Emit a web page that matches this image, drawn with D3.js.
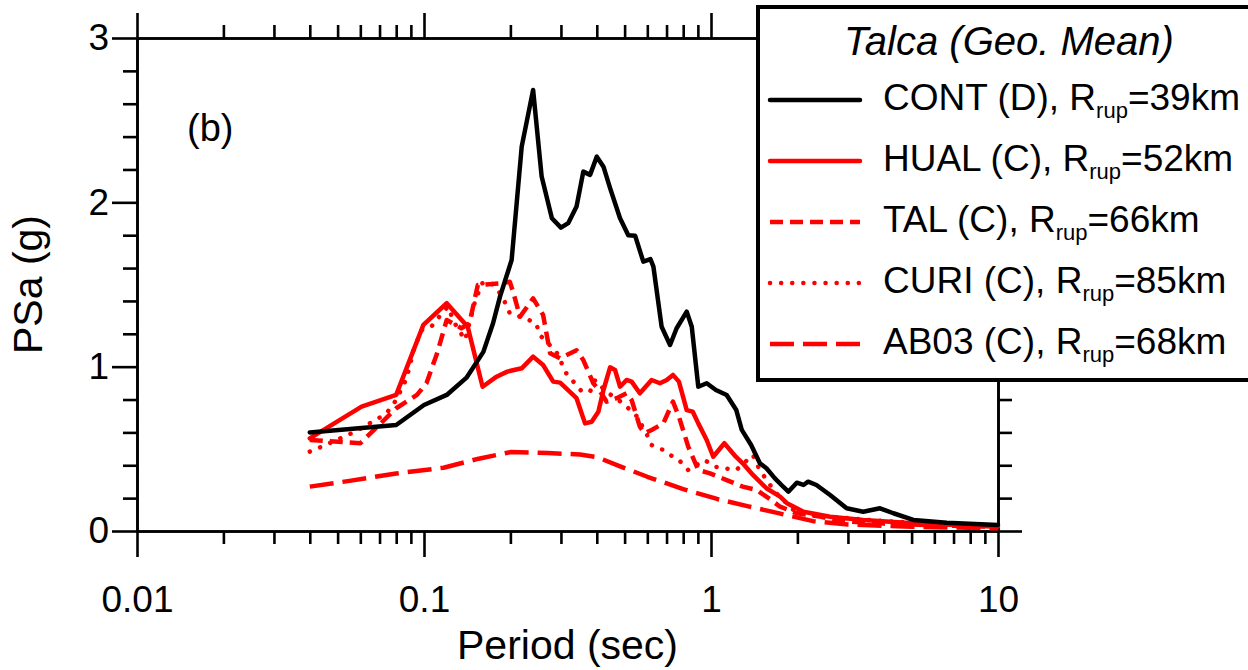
<!DOCTYPE html>
<html>
<head>
<meta charset="utf-8">
<script src="https://cdn.jsdelivr.net/npm/d3@7"></script>
<style>
  body { margin: 0; background: #fff; }
  svg { display: block; }
  text { font-family: "Liberation Sans", Arial, sans-serif; fill: #000; }
</style>
</head>
<body>
<div id="chart"></div>
<script>
// periods (sec) and PSa (g), one pair of arrays per record
const contT = [0.04, 0.08, 0.10, 0.12, 0.141, 0.161, 0.174, 0.184, 0.202, 0.219, 0.240, 0.257, 0.279, 0.300, 0.318, 0.340, 0.359, 0.379, 0.400, 0.422, 0.445, 0.482, 0.515, 0.544, 0.581, 0.615, 0.630, 0.673, 0.720, 0.759, 0.823, 0.857, 0.903, 0.966, 1.04, 1.134, 1.225, 1.28, 1.38, 1.48, 1.56, 1.67, 1.76, 1.86, 1.99, 2.10, 2.18, 2.33, 2.60, 2.97, 3.39, 3.88, 4.32, 5.07, 6.63, 10];
const contSa = [0.60, 0.645, 0.767, 0.828, 0.935, 1.09, 1.264, 1.426, 1.649, 2.339, 2.684, 2.157, 1.903, 1.846, 1.873, 1.974, 2.187, 2.167, 2.278, 2.217, 2.086, 1.903, 1.80, 1.797, 1.639, 1.655, 1.609, 1.243, 1.132, 1.234, 1.335, 1.243, 0.878, 0.899, 0.858, 0.828, 0.736, 0.615, 0.523, 0.412, 0.382, 0.32, 0.28, 0.239, 0.294, 0.28, 0.30, 0.28, 0.219, 0.138, 0.117, 0.138, 0.108, 0.067, 0.05, 0.037];

const hualT = [0.04, 0.0606, 0.080, 0.0995, 0.120, 0.142, 0.160, 0.179, 0.195, 0.219, 0.240, 0.260, 0.282, 0.298, 0.313, 0.340, 0.364, 0.384, 0.405, 0.422, 0.445, 0.463, 0.482, 0.508, 0.529, 0.565, 0.621, 0.664, 0.701, 0.737, 0.773, 0.823, 0.864, 0.903, 0.966, 1.018, 1.113, 1.22, 1.29, 1.40, 1.56, 1.74, 1.84, 2.10, 2.60, 3.39, 5.07, 10];
const hualSa = [0.564, 0.757, 0.828, 1.254, 1.386, 1.243, 0.878, 0.939, 0.97, 0.99, 1.061, 1.01, 0.909, 0.903, 0.868, 0.808, 0.655, 0.665, 0.726, 0.858, 0.996, 0.98, 0.878, 0.919, 0.909, 0.838, 0.919, 0.899, 0.919, 0.95, 0.909, 0.736, 0.726, 0.655, 0.554, 0.452, 0.534, 0.452, 0.412, 0.341, 0.26, 0.209, 0.169, 0.117, 0.087, 0.067, 0.047, 0.026];

const talT = [0.04, 0.060, 0.080, 0.0945, 0.102, 0.111, 0.120, 0.135, 0.144, 0.154, 0.184, 0.199, 0.205, 0.216, 0.240, 0.260, 0.275, 0.298, 0.340, 0.359, 0.389, 0.411, 0.433, 0.469, 0.508, 0.529, 0.565, 0.587, 0.621, 0.682, 0.737, 0.773, 0.833, 0.903, 0.992, 1.134, 1.29, 1.44, 1.62, 1.74, 1.99, 2.42, 2.83, 4.0, 6.0, 10];
const talSa = [0.554, 0.534, 0.747, 0.828, 0.899, 1.08, 1.284, 1.234, 1.264, 1.497, 1.507, 1.517, 1.447, 1.304, 1.416, 1.315, 1.082, 1.051, 1.10, 1.04, 0.899, 0.848, 0.787, 0.808, 0.838, 0.797, 0.635, 0.595, 0.615, 0.655, 0.787, 0.696, 0.513, 0.371, 0.351, 0.31, 0.27, 0.25, 0.189, 0.148, 0.108, 0.087, 0.06, 0.045, 0.035, 0.025];

const curiT = [0.04, 0.044, 0.0575, 0.0685, 0.074, 0.080, 0.087, 0.092, 0.098, 0.106, 0.113, 0.121, 0.128, 0.139, 0.150, 0.159, 0.170, 0.181, 0.191, 0.199, 0.221, 0.246, 0.253, 0.289, 0.313, 0.355, 0.379, 0.395, 0.43, 0.494, 0.55, 0.595, 0.621, 0.682, 0.72, 0.773, 0.833, 0.95, 1.035, 1.113, 1.225, 1.40, 1.46, 1.56, 1.69, 1.99, 2.6, 4.0, 6.0, 10];
const curiSa = [0.483, 0.513, 0.604, 0.68, 0.716, 0.797, 0.93, 1.10, 1.223, 1.243, 1.304, 1.365, 1.264, 1.162, 1.386, 1.507, 1.517, 1.467, 1.395, 1.325, 1.30, 1.264, 1.193, 1.091, 0.96, 0.848, 0.848, 0.919, 0.85, 0.777, 0.70, 0.595, 0.523, 0.493, 0.463, 0.432, 0.371, 0.432, 0.391, 0.382, 0.371, 0.463, 0.391, 0.31, 0.23, 0.108, 0.087, 0.06, 0.045, 0.03];

const ab03T = [0.04, 0.055, 0.08, 0.117, 0.155, 0.2, 0.27, 0.35, 0.4, 0.48, 0.6, 0.8, 1.05, 1.35, 1.7, 2.27, 3.0, 5.0, 10];
const ab03Sa = [0.27, 0.305, 0.35, 0.385, 0.44, 0.48, 0.475, 0.465, 0.45, 0.395, 0.33, 0.255, 0.195, 0.15, 0.11, 0.06, 0.04, 0.026, 0.016];

const seriesNames = ["CONT (D), R", "HUAL (C), R", "TAL (C), R", "CURI (C), R", "AB03 (C), R"];
const seriesRrup = ["=39km", "=52km", "=66km", "=85km", "=68km"];
const xMajor = [0.01, 0.1, 1, 10];
const xMajorLabels = ["0.01", "0.1", "1", "10"];
const yMajor = [0, 1, 2, 3];

const series = [
  { T: contT, Sa: contSa, color: "#000", dash: null, cap: "round" },
  { T: hualT, Sa: hualSa, color: "#ff0000", dash: null, cap: "round" },
  { T: talT, Sa: talSa, color: "#ff0000", dash: "13,7", cap: "butt" },
  { T: curiT, Sa: curiSa, color: "#ff0000", dash: "0.1,11", cap: "round" },
  { T: ab03T, Sa: ab03Sa, color: "#ff0000", dash: "24,9", cap: "butt" }
];

const W = 1248, H = 670;
const plotL = 137, plotR = 998, plotT = 38, plotB = 531;

const svg = d3.select("#chart").append("svg")
  .attr("width", W).attr("height", H);

const x = d3.scaleLog().domain([0.01, 10]).range([plotL, plotR]);
const y = d3.scaleLinear().domain([0, 3]).range([plotB, plotT]);

// minor tick positions
const xMinor = [];
[0.01, 0.1, 1].forEach(d => { for (let k = 2; k <= 9; k++) xMinor.push(d * k); });
const yMinor = d3.range(0, 3.01, 0.2).map(v => +v.toFixed(1)).filter(v => !yMajor.includes(v));

const axisW = 2.6;
function styleAxis(g) {
  g.select(".domain").attr("stroke-width", axisW);
  g.selectAll(".tick line").attr("stroke-width", axisW);
  g.selectAll("text").attr("font-size", 37)
    .attr("font-family", '"Liberation Sans", Arial, sans-serif');
}

// minor ticks first
svg.append("g").attr("transform", `translate(0,${plotB})`)
  .call(d3.axisBottom(x).tickValues(xMinor).tickSize(13).tickSizeOuter(0).tickFormat(""))
  .call(styleAxis);
svg.append("g").attr("transform", `translate(0,${plotT})`)
  .call(d3.axisTop(x).tickValues(xMinor).tickSize(13).tickSizeOuter(0).tickFormat(""))
  .call(styleAxis);
svg.append("g").attr("transform", `translate(${plotL},0)`)
  .call(d3.axisLeft(y).tickValues(yMinor).tickSize(14).tickSizeOuter(0).tickFormat(""))
  .call(styleAxis);
svg.append("g").attr("transform", `translate(${plotR},0)`)
  .call(d3.axisRight(y).tickValues(yMinor).tickSize(14).tickSizeOuter(0).tickFormat(""))
  .call(styleAxis);

// major ticks + labels
svg.append("g").attr("transform", `translate(0,${plotB})`)
  .call(d3.axisBottom(x).tickValues(xMajor).tickSize(26).tickSizeOuter(0).tickPadding(29)
    .tickFormat((d, i) => xMajorLabels[i]))
  .call(styleAxis);
svg.append("g").attr("transform", `translate(0,${plotT})`)
  .call(d3.axisTop(x).tickValues(xMajor).tickSize(25).tickSizeOuter(0).tickFormat(""))
  .call(styleAxis);
svg.append("g").attr("transform", `translate(${plotL},0)`)
  .call(d3.axisLeft(y).tickValues(yMajor).tickSize(25).tickSizeOuter(0).tickPadding(3)
    .tickFormat(d3.format("d")))
  .call(styleAxis);
svg.append("g").attr("transform", `translate(${plotR},0)`)
  .call(d3.axisRight(y).tickValues(yMajor).tickSize(24).tickSizeOuter(0).tickFormat(""))
  .call(styleAxis);

// axis titles
svg.append("text")
  .attr("x", (plotL + plotR) / 2).attr("y", 659)
  .attr("text-anchor", "middle").attr("font-size", 41)
  .text("Period (sec)");
svg.append("text")
  .attr("transform", `translate(42,${(plotT + plotB) / 2}) rotate(-90)`)
  .attr("text-anchor", "middle").attr("font-size", 41)
  .text("PSa (g)");
svg.append("text")
  .attr("x", 187).attr("y", 141).attr("font-size", 38)
  .text("(b)");

// curves
const line = d3.line()
  .x(d => x(d[0]))
  .y(d => y(d[1]));

series.slice().reverse().forEach(s => {
  svg.append("path")
    .datum(s.T.map((t, i) => [t, s.Sa[i]]))
    .attr("fill", "none")
    .attr("stroke", s.color)
    .attr("stroke-width", 4.5)
    .attr("stroke-linejoin", "round")
    .attr("stroke-linecap", s.cap)
    .attr("stroke-dasharray", s.dash)
    .attr("d", line);
});

// legend
const lg = svg.append("g");
lg.append("rect")
  .attr("x", 758).attr("y", 7).attr("width", 560).attr("height", 373)
  .attr("fill", "#fff").attr("stroke", "#000").attr("stroke-width", 4);
lg.append("text")
  .attr("x", 1009).attr("y", 55).attr("text-anchor", "middle")
  .attr("font-size", 40).attr("font-style", "italic")
  .text("Talca (Geo. Mean)");

series.forEach((s, i) => {
  const cy = 100 + i * 61;
  lg.append("line")
    .attr("x1", 770).attr("x2", 860).attr("y1", cy).attr("y2", cy)
    .attr("stroke", s.color).attr("stroke-width", 4.5)
    .attr("stroke-linecap", s.cap)
    .attr("stroke-dasharray", s.dash);
  const t = lg.append("text").attr("x", 883).attr("y", cy + 10).attr("font-size", 37);
  t.append("tspan").text(seriesNames[i]);
  t.append("tspan").attr("font-size", 22).attr("dy", 8).text("rup");
  t.append("tspan").attr("dy", -8).text(seriesRrup[i]);
});
</script>
</body>
</html>
